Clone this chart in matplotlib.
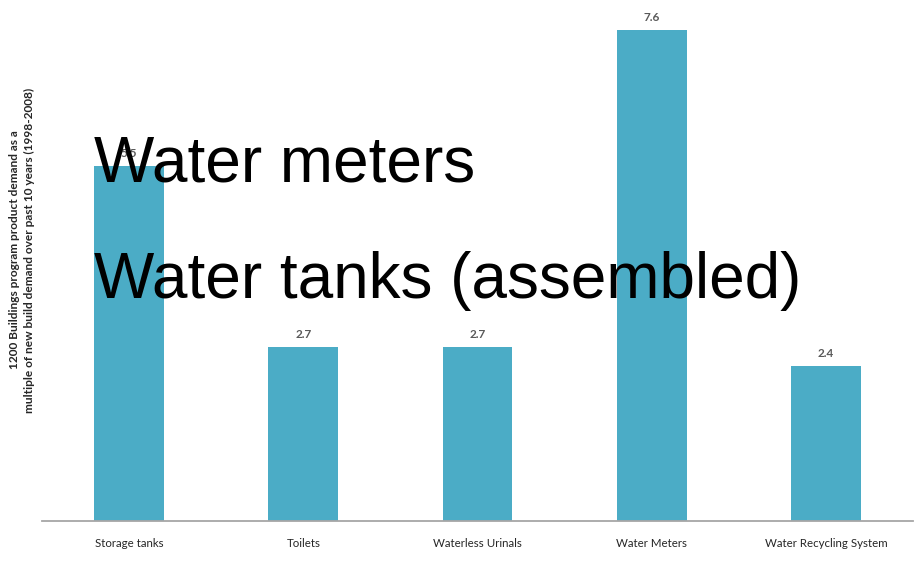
import matplotlib
matplotlib.use("Agg")
import matplotlib.pyplot as plt

categories = ["Storage tanks", "Toilets", "Waterless Urinals", "Water Meters", "Water Recycling System"]
values = [5.5, 2.7, 2.7, 7.6, 2.4]
value_labels = ["5.5", "2.7", "2.7", "7.6", "2.4"]
overlay_lines = ["Water meters", "Water tanks (assembled)"]
ylabel = "1200 Buildings program product demand as a\nmultiple of new build demand over past 10 years (1998-2008)"

small_font = ["Lato", "DejaVu Sans"]

W, H = 924, 562
fig = plt.figure(figsize=(W / 100, H / 100), dpi=100)
ax = fig.add_axes([42 / W, (H - 521) / H, 871 / W, 517 / H])

x = list(range(len(categories)))
bars = ax.bar(x, values, width=0.4, color="#4BACC6", edgecolor="none")

for xi, v, lab in zip(x, values, value_labels):
    ax.annotate(lab, (xi, v), xytext=(0, 5), textcoords="offset points",
                ha="center", va="bottom", fontsize=8.5, color="#595959",
                fontweight="bold", family=small_font)

ax.set_xlim(-0.5, len(categories) - 0.5)
ax.set_ylim(0, 8.0)
ax.set_yticks([])
ax.set_xticks(x)
ax.set_xticklabels(categories, fontsize=8.3, family=small_font, color="#262626")
ax.tick_params(axis="x", length=0, pad=12)
for s in ["top", "right", "left"]:
    ax.spines[s].set_visible(False)
ax.spines["bottom"].set_color("#a6a6a6")
ax.spines["bottom"].set_linewidth(1.3)

fig.text(22 / W, (H - 250) / H, ylabel, rotation=90, ha="center", va="center",
         fontsize=8.6, fontweight="bold", family=small_font, color="#262626",
         multialignment="center", linespacing=1.35)

# big overlaid text
fig.text(94 / W, (H - 182) / H, overlay_lines[0], fontsize=46,
         family=["Liberation Sans", "DejaVu Sans"], color="black", va="baseline", ha="left")
fig.text(94 / W, (H - 298) / H, overlay_lines[1], fontsize=46,
         family=["Liberation Sans", "DejaVu Sans"], color="black", va="baseline", ha="left")

fig.savefig("out.png", dpi=100)
